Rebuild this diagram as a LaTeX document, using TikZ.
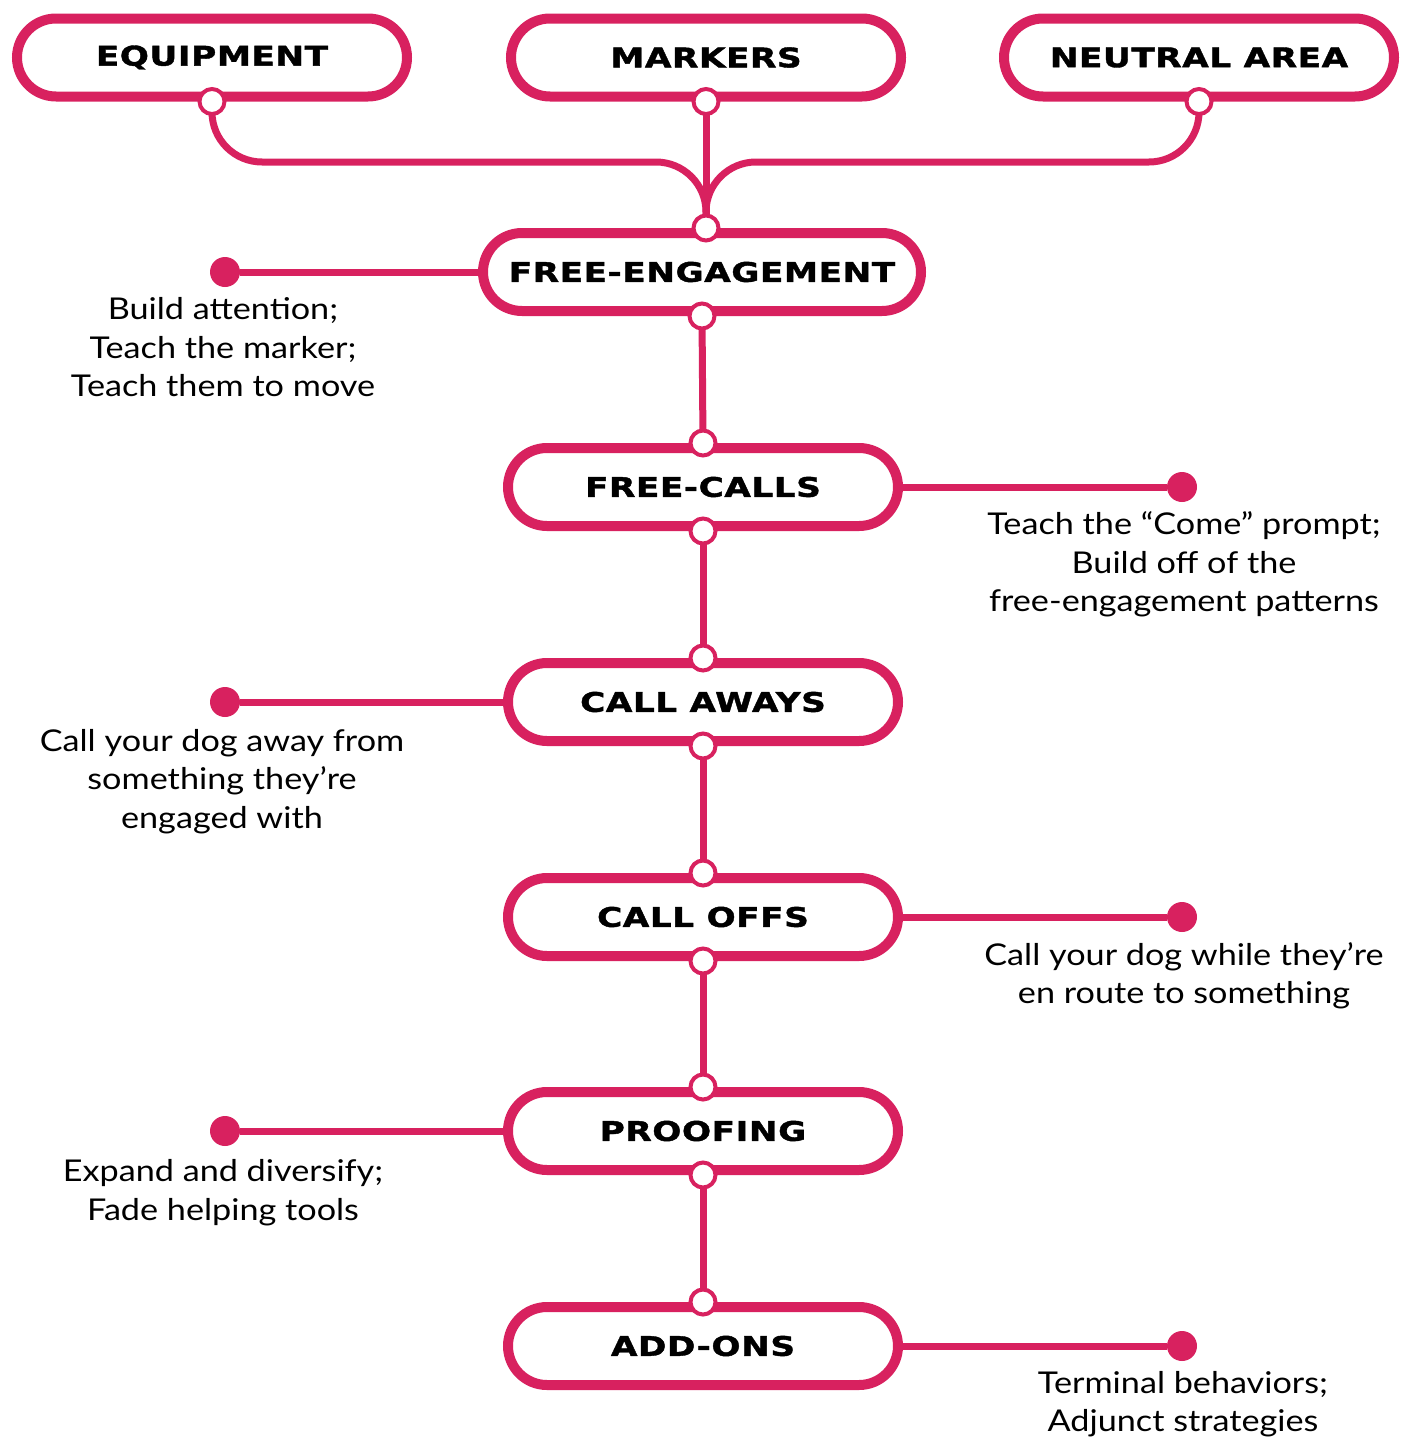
\documentclass[tikz,border=0pt]{standalone}
\usepackage{fontspec}
\setmainfont[FakeStretch=1.14]{Lato}
\newfontfamily\headfont[FakeStretch=1.27,LetterSpace=2,BoldFeatures={FakeBold=1.5}]{DejaVu Sans}
\usetikzlibrary{shapes.misc}
\definecolor{pinkline}{HTML}{D8215F}
\tikzset{
  stagebox/.style={rounded rectangle, draw=pinkline, line width=10pt, fill=white,
    minimum width=390pt, minimum height=78pt, inner sep=0pt,
    font=\headfont\bfseries\fontsize{27}{27}\selectfont},
  joint/.style={circle, draw=pinkline, line width=4pt, fill=white, minimum size=25pt, inner sep=0pt},
  enddot/.style={circle, fill=pinkline, minimum size=30pt, inner sep=0pt},
  link/.style={draw=pinkline, line width=7pt},
  note/.style={align=center, font=\fontsize{30}{38.5}\selectfont, inner sep=0pt}
}
\begin{document}
\begin{tikzpicture}[x=1pt,y=-1pt]
\useasboundingbox (0,0) rectangle (1406,1443);
% boxes
\node[stagebox] (eq) at (212,57.5) {EQUIPMENT};
\node[stagebox] (mk) at (706,57.5) {MARKERS};
\node[stagebox] (na) at (1199,57.5) {NEUTRAL AREA};
\node[stagebox, minimum width=438pt] (fe) at (702,272) {FREE-ENGAGEMENT};
\node[stagebox] (fc) at (703,487) {FREE-CALLS};
\node[stagebox] (ca) at (703,702) {CALL AWAYS};
\node[stagebox] (co) at (703,917) {CALL OFFS};
\node[stagebox] (pr) at (703,1131) {PROOFING};
\node[stagebox] (ao) at (703,1346) {ADD-ONS};
% end dots
\node[enddot] (d1) at (225,272) {};
\node[enddot] (d2) at (1182,487) {};
\node[enddot] (d3) at (225,702) {};
\node[enddot] (d4) at (1182,917) {};
\node[enddot] (d5) at (225,1131) {};
\node[enddot] (d6) at (1182,1346) {};
% top merge
\draw[link, rounded corners=50pt] (eq.south) -- (eq.south |- 0,162) -- (mk.south |- 0,162) -- (fe.north -| mk.south);
\draw[link, rounded corners=50pt] (na.south) -- (na.south |- 0,162) -- (mk.south |- 0,162) -- (fe.north -| mk.south);
\draw[link] (mk.south) -- (fe.north -| mk.south);
% chain
\draw[link] (fe.south) -- (fc.north);
\draw[link] (fc.south) -- (ca.north);
\draw[link] (ca.south) -- (co.north);
\draw[link] (co.south) -- (pr.north);
\draw[link] (pr.south) -- (ao.north);
% side links
\draw[link] (fe.west) -- (d1);
\draw[link] (fc.east) -- (d2);
\draw[link] (ca.west) -- (d3);
\draw[link] (co.east) -- (d4);
\draw[link] (pr.west) -- (d5);
\draw[link] (ao.east) -- (d6);
% joints
\node[joint] (j1) at (eq.south) {};
\node[joint] (j2) at (mk.south) {};
\node[joint] (j3) at (na.south) {};
\node[joint] (j4) at (fe.north -| mk.south) {};
\node[joint] (j5) at (fe.south) {};
\node[joint] (j6) at (fc.north) {};
\node[joint] (j7) at (fc.south) {};
\node[joint] (j8) at (ca.north) {};
\node[joint] (j9) at (ca.south) {};
\node[joint] (j10) at (co.north) {};
\node[joint] (j11) at (co.south) {};
\node[joint] (j12) at (pr.north) {};
\node[joint] (j13) at (pr.south) {};
\node[joint] (j14) at (ao.north) {};
% notes
\node[note] (n1) at (223,347.5) {Build attention;\\Teach the marker;\\Teach them to move};
\node[note] (n2) at (1184,564.5) {Teach the “Come” prompt;\\Build off of the\\free-engagement patterns};
\node[note] (n3) at (222,781.5) {Call your dog away from\\something they’re\\engaged with};
\node[note] (n4) at (1184,976) {Call your dog while they’re\\en route to something};
\node[note] (n5) at (223,1192.5) {Expand and diversify;\\Fade helping tools};
\node[note] (n6) at (1183,1404) {Terminal behaviors;\\Adjunct strategies};
\end{tikzpicture}
\end{document}
